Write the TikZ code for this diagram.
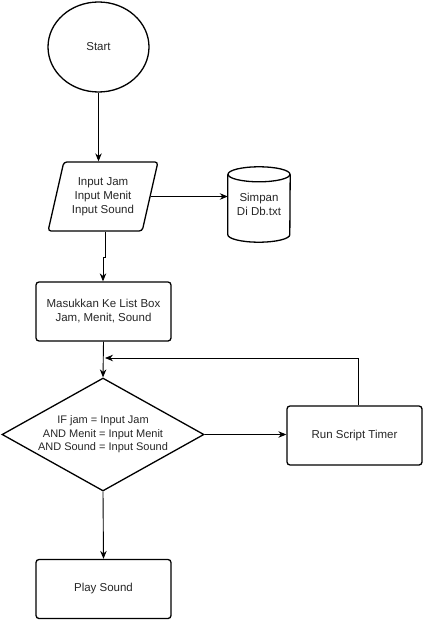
\documentclass[tikz,border=0pt]{standalone}
\usepackage{fontspec}
\setmainfont{Liberation Sans}
\usetikzlibrary{shapes.geometric,arrows.meta,calc}
\begin{document}
\begin{tikzpicture}[x=1pt,y=-1pt,
  font=\fontsize{11.5}{14}\selectfont, text=black!85,
  shp/.style={draw=black, line width=1.3pt, inner sep=0pt, align=center},
  rbox/.style={shp, rectangle, rounded corners=3pt, minimum width=135pt, minimum height=59pt},
  arr/.style={draw=black, line width=0.9pt, -{Stealth[length=8pt,width=6.5pt]}},
  ln/.style={draw=black, line width=0.9pt}]
\useasboundingbox (0,0) rectangle (423,620);
\node[shp, ellipse, minimum width=101pt, minimum height=90pt] (start) at (98.5,47) {Start};
\node[shp, trapezium, trapezium left angle=72, trapezium right angle=108, trapezium stretches=true,
  minimum width=110pt, minimum height=69pt, rounded corners=3pt] (in) at (103,196.5) {Input Jam\\Input Menit\\Input Sound};
\node[inner sep=0pt, align=center, minimum width=62pt, minimum height=75pt] (db) at (259,204.5) {Simpan\\Di Db.txt};
\draw[shp] ($(db.north west)+(0,7.5)$) -- ($(db.south west)+(0,-7.5)$)
  arc[start angle=180, end angle=360, x radius=31pt, y radius=7.5pt]
  -- ($(db.north east)+(0,7.5)$);
\draw[shp] ($(db.north)+(0,7.5)$) ellipse [x radius=31pt, y radius=7.5pt];
\node[rbox] (box) at (103.5,311.5) {Masukkan Ke List Box\\Jam, Menit, Sound};
\node[shp, diamond, aspect=1.79, minimum width=202pt, minimum height=113pt, font=\fontsize{11}{13.5}\selectfont] (dec) at (103,434.5) {IF jam = Input Jam\\AND Menit = Input Menit\\AND Sound = Input Sound};
\node[rbox] (run) at (354.5,435.5) {Run Script Timer};
\node[rbox] (play) at (103.5,589) {Play Sound};
\coordinate (k1) at (105,257);
\coordinate (k2) at (103,257);
\coordinate (j) at (105,358);
\draw[arr] (start.south) -- (start.south |- in.north);
\draw[arr] (in.east) -- (in.east -| db.west);
\draw[arr] (in.south -| k1) -- (k1) -- (k2) -- (k2 |- box.north);
\draw[arr] (box.south) -- (dec.north);
\draw[arr] (dec.east) -- (dec.east -| run.west);
\draw[arr] ($(run.north)+(3.5,0)$) |- (j);
\draw[arr] (dec.south) -- (play.north);
\end{tikzpicture}
\end{document}
